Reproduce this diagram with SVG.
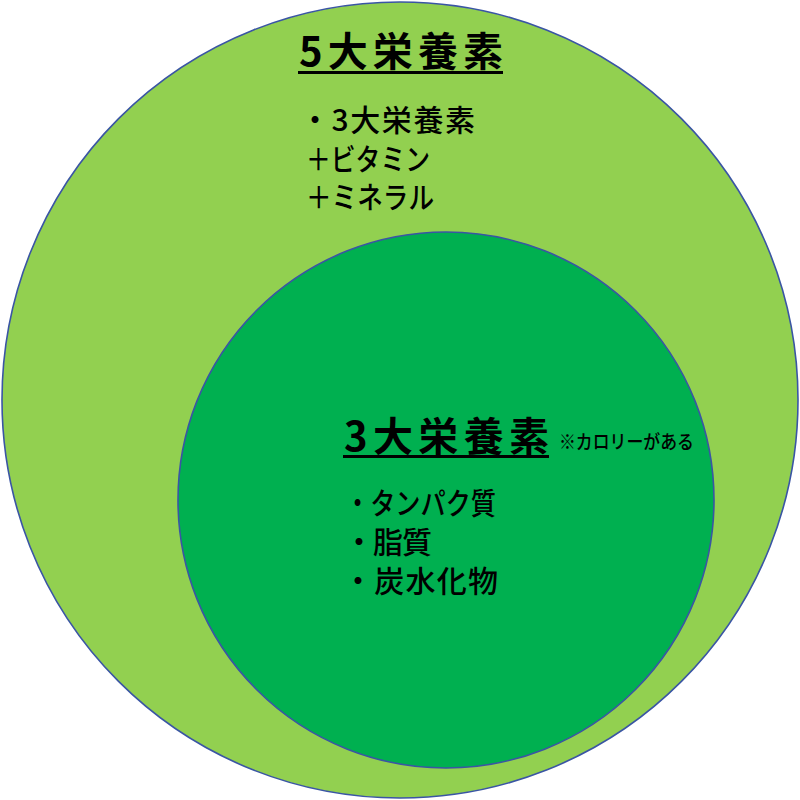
<svg xmlns="http://www.w3.org/2000/svg" width="800" height="800" viewBox="0 0 800 800">
<style>
.c{stroke:#3A55A4;stroke-width:1.6}
.t{font-family:"Noto Sans CJK JP","Noto Sans",sans-serif;fill:#000}
.b{font-weight:bold;font-size:40px}
.l{font-size:30px;font-weight:500}
.s{font-size:19px;font-weight:500}
</style>
<rect width="800" height="800" fill="#fff"/>
<g id="outer">
<circle class="c" cx="400" cy="400" r="398" fill="#92D050"/>
<text class="t b" x="299" y="66" textLength="204" lengthAdjust="spacing">5大栄養素</text>
<rect x="298" y="71" width="205" height="3" fill="#000"/>
<text class="t l" x="300" y="131" textLength="175" lengthAdjust="spacing">・3大栄養素</text>
<text class="t l" x="306" y="170" textLength="124" lengthAdjust="spacingAndGlyphs">＋ビタミン</text>
<text class="t l" x="306" y="208" textLength="128" lengthAdjust="spacingAndGlyphs">＋ミネラル</text>
</g>
<g id="inner">
<circle class="c" cx="446" cy="500" r="268" fill="#00B050"/>
<text class="t b" x="344" y="451" textLength="205" lengthAdjust="spacing">3大栄養素</text>
<rect x="343" y="455" width="206" height="3" fill="#000"/>
<text class="t s" x="559" y="449" textLength="135" lengthAdjust="spacingAndGlyphs">※カロリーがある</text>
<text class="t l" x="345" y="514" textLength="151" lengthAdjust="spacingAndGlyphs">・タンパク質</text>
<text class="t l" x="344" y="553" textLength="88" lengthAdjust="spacing">・脂質</text>
<text class="t l" x="343" y="592" textLength="155" lengthAdjust="spacing">・炭水化物</text>
</g>
<g id="connectors"/>
</svg>
